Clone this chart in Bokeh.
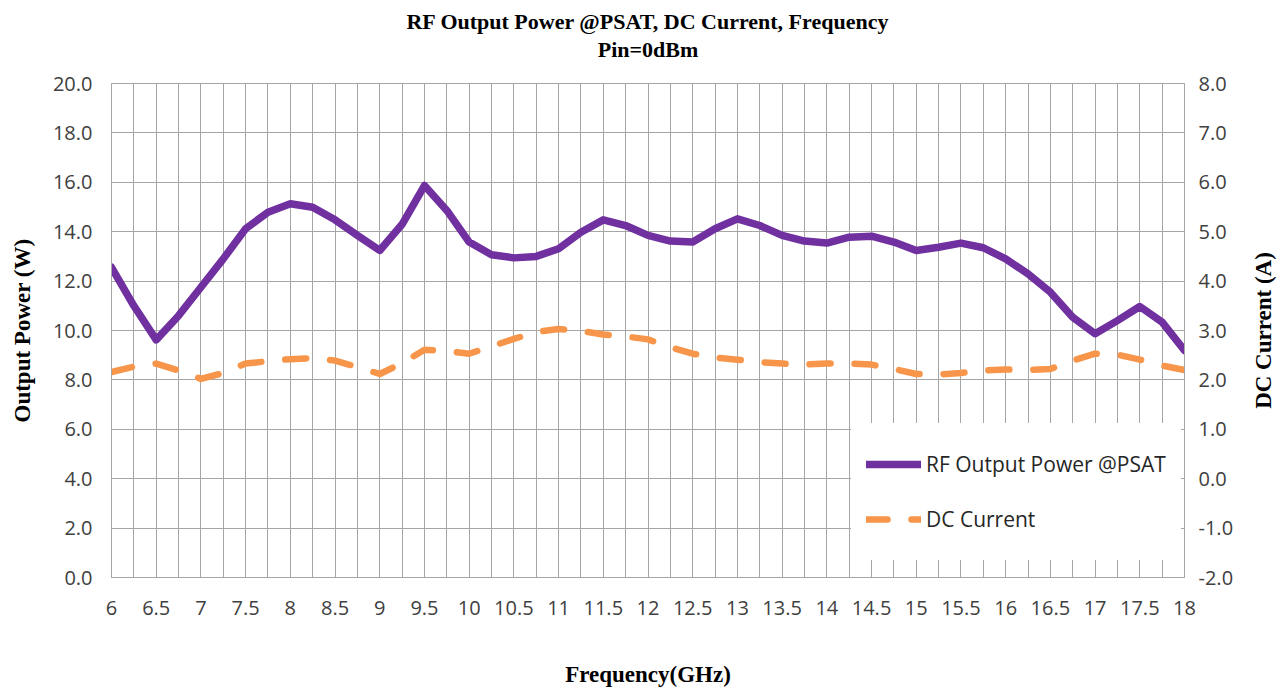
from bokeh.plotting import figure
from bokeh.layouts import row
from bokeh.models import (Range1d, LinearAxis, FixedTicker, NumeralTickFormatter,
                          Legend, LegendItem, Title)
from bokeh.embed import file_html
from bokeh.resources import INLINE

# ---------------- data ----------------
freq_ghz = [6.0, 6.25, 6.5, 6.75, 7.0, 7.25, 7.5, 7.75, 8.0, 8.25, 8.5, 8.75,
            9.0, 9.25, 9.5, 9.75, 10.0, 10.25, 10.5, 10.75, 11.0, 11.25, 11.5, 11.75,
            12.0, 12.25, 12.5, 12.75, 13.0, 13.25, 13.5, 13.75, 14.0, 14.25, 14.5, 14.75,
            15.0, 15.25, 15.5, 15.75, 16.0, 16.25, 16.5, 16.75, 17.0, 17.25, 17.5, 17.75,
            18.0]

rf_power_w = [12.56, 11.0, 9.62, 10.6, 11.75, 12.9, 14.12, 14.79, 15.13, 14.99, 14.48, 13.85,
              13.24, 14.3, 15.87, 14.86, 13.58, 13.07, 12.94, 13.0, 13.31, 13.98, 14.48, 14.25,
              13.85, 13.62, 13.58, 14.12, 14.52, 14.25, 13.85, 13.62, 13.54, 13.78, 13.82, 13.58,
              13.24, 13.37, 13.54, 13.35, 12.9, 12.29, 11.55, 10.54, 9.87, 10.4, 10.97, 10.34,
              9.19]

dc_current_a = [2.16, 2.27, 2.33, 2.19, 2.02, 2.14, 2.33, 2.38, 2.42, 2.44, 2.39, 2.26,
                2.12, 2.34, 2.61, 2.58, 2.53, 2.68, 2.83, 2.97, 3.03, 2.99, 2.92, 2.88,
                2.82, 2.66, 2.53, 2.45, 2.41, 2.36, 2.33, 2.31, 2.33, 2.33, 2.31, 2.22,
                2.12, 2.11, 2.14, 2.19, 2.21, 2.20, 2.22, 2.39, 2.53, 2.51, 2.41, 2.29,
                2.20]

x_tick_values = [6, 6.5, 7, 7.5, 8, 8.5, 9, 9.5, 10, 10.5, 11, 11.5, 12, 12.5,
                 13, 13.5, 14, 14.5, 15, 15.5, 16, 16.5, 17, 17.5, 18]
x_tick_labels = ["6", "6.5", "7", "7.5", "8", "8.5", "9", "9.5", "10", "10.5", "11", "11.5",
                 "12", "12.5", "13", "13.5", "14", "14.5", "15", "15.5", "16", "16.5",
                 "17", "17.5", "18"]
y_left_ticks = [0, 2, 4, 6, 8, 10, 12, 14, 16, 18, 20]
y_right_ticks = [-2, -1, 0, 1, 2, 3, 4, 5, 6, 7, 8]

title_line1 = "RF Output Power @PSAT, DC Current, Frequency"
title_line2 = "Pin=0dBm"
x_label = "Frequency(GHz)"
y_left_label = "Output Power (W)"
y_right_label = "DC Current (A)"
series_names = ["RF Output Power @PSAT", "DC Current"]

# ---------------- styling ----------------
PURPLE = "#7030A0"
ORANGE = "#F7964A"
GRID = "#A6A6A6"
TICK_FONT = "Open Sans"
SERIF = "Liberation Serif"

MAIN_W = 1245
SIDE_W = 36
H = 689
B_TOP = 83
B_BOTTOM = 112

p = figure(width=MAIN_W, height=H, output_backend="svg", toolbar_location=None,
           title=None, x_range=Range1d(6, 18), y_range=Range1d(0, 20),
           min_border_left=111, min_border_right=MAIN_W - 1184, min_border_top=B_TOP,
           min_border_bottom=B_BOTTOM, background_fill_color="white",
           border_fill_color="white")
p.extra_y_ranges = {"cur": Range1d(-2, 8)}

p.outline_line_color = GRID
p.outline_line_width = 1

# grid
p.xgrid.ticker = FixedTicker(ticks=freq_ghz)
p.xgrid.grid_line_color = GRID
p.ygrid.ticker = FixedTicker(ticks=y_left_ticks)
p.ygrid.grid_line_color = GRID

# x axis
xa = p.xaxis[0]
xa.ticker = FixedTicker(ticks=x_tick_values)
xa.major_label_overrides = {v: s for v, s in zip(x_tick_values, x_tick_labels)}
xa.axis_label = x_label
# left axis
ya = p.yaxis[0]
ya.ticker = FixedTicker(ticks=y_left_ticks)
ya.formatter = NumeralTickFormatter(format="0.0")
ya.axis_label = y_left_label
# right axis
ra = LinearAxis(y_range_name="cur", ticker=FixedTicker(ticks=y_right_ticks),
                formatter=NumeralTickFormatter(format="0.0"))
p.add_layout(ra, "right")

for ax in (xa, ya, ra):
    ax.axis_line_color = GRID
    ax.major_tick_in = 0
    ax.major_tick_out = 0
    ax.minor_tick_in = 0
    ax.minor_tick_out = 0
    ax.major_label_text_font = TICK_FONT
    ax.major_label_text_font_size = "20px"
    ax.major_label_text_color = "#404040"
    ax.axis_label_text_font = SERIF
    ax.axis_label_text_font_style = "bold"
    ax.axis_label_text_font_size = "23px"
    ax.axis_label_text_color = "#000000"

xa.major_label_standoff = 23
xa.axis_label_standoff = 44
ya.major_label_standoff = 19
ya.axis_label_standoff = 15
ra.major_label_standoff = 14

# lines
r_pow = p.line(freq_ghz, rf_power_w, line_color=PURPLE, line_width=7.5,
               line_join="round", line_cap="round")
r_cur = p.line(freq_ghz, dc_current_a, y_range_name="cur", line_color=ORANGE,
               line_width=6.5, line_dash="21 24", line_join="round", line_cap="round")

legend = Legend(items=[LegendItem(label=series_names[0], renderers=[r_pow]),
                       LegendItem(label=series_names[1], renderers=[r_cur])],
                location=(740, 17), orientation="vertical",
                background_fill_color="white", background_fill_alpha=1.0,
                border_line_color="white", border_line_alpha=1.0,
                padding=14, spacing=3,
                glyph_width=55, glyph_height=52, label_height=52,
                label_standoff=5, label_text_font=TICK_FONT,
                label_text_font_size="21px", label_text_color="#262626",
                margin=0)
p.add_layout(legend, "center")

# titles (first added = nearest the plot); an empty spacer keeps a gap above the frame
p.add_layout(Title(text=" ", text_font_size="1px", standoff=18), "above")
p.add_layout(Title(text=title_line2, align="center", text_font=SERIF,
                   text_font_style="bold", text_font_size="22px",
                   text_color="#000000", standoff=2), "above")
p.add_layout(Title(text=title_line1, align="center", text_font=SERIF,
                   text_font_style="bold", text_font_size="22px",
                   text_color="#000000", standoff=0), "above")

# narrow side strip carrying the right-hand axis title (reads bottom-to-top)
side = figure(width=SIDE_W, height=H, output_backend="svg", toolbar_location=None,
              title=None, x_range=Range1d(0, 1), y_range=Range1d(0, 1),
              min_border_left=30, min_border_right=0, min_border_top=B_TOP,
              min_border_bottom=B_BOTTOM, background_fill_color="white",
              border_fill_color="white")
side.outline_line_color = None
side.axis.visible = False
side.grid.visible = False
side.add_layout(Title(text=y_right_label, align="center", text_font=SERIF,
                      text_font_style="bold", text_font_size="23px",
                      text_color="#000000", standoff=0, offset=20), "left")

layout = row(p, side, spacing=0)
open("out.html", "w").write(file_html(layout, INLINE))
